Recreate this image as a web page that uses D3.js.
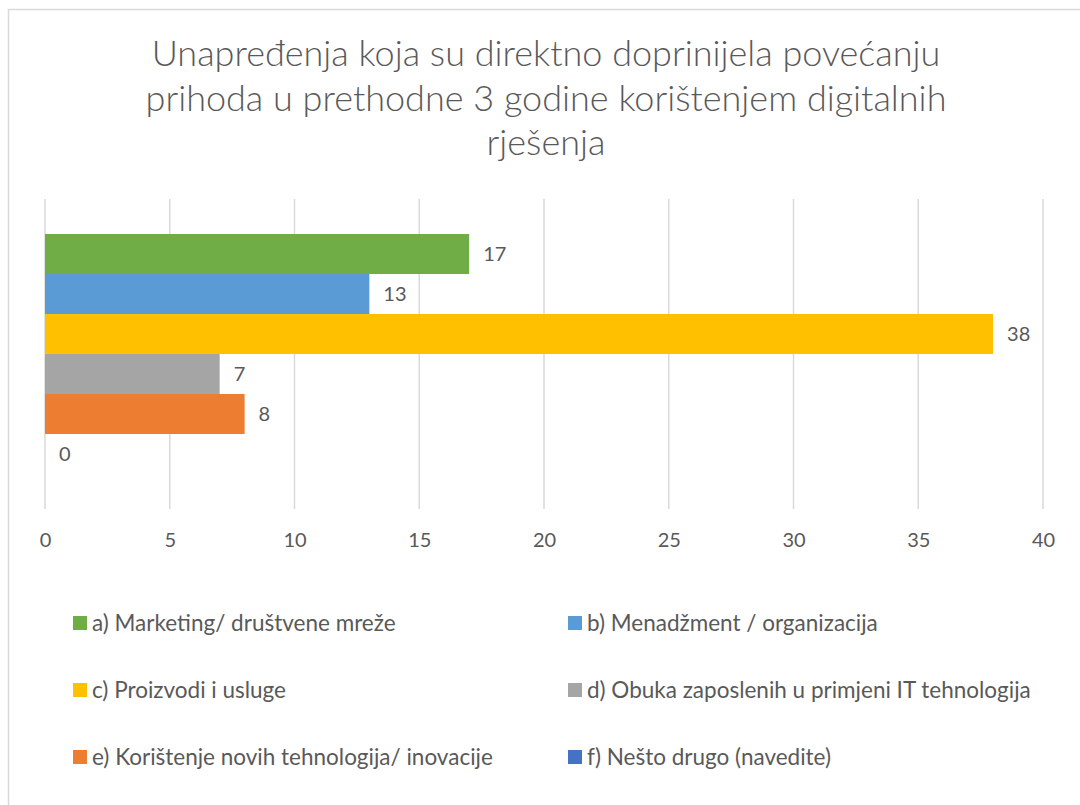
<!DOCTYPE html>
<html>
<head>
<meta charset="utf-8">
<script src="https://cdn.jsdelivr.net/npm/d3@7"></script>
<style>
  html, body { margin: 0; padding: 0; background: #fff; }
  svg { display: block; }
  text { font-family: Lato, "Open Sans", sans-serif; fill: #595959; }
</style>
</head>
<body>
<svg id="chart" width="1080" height="805"></svg>
<script>
const titleLines = [
  "Unapređenja koja su direktno doprinijela povećanju",
  "prihoda u prethodne 3 godine korištenjem digitalnih",
  "rješenja"
];
const categories = [
  "a) Marketing/ društvene mreže",
  "b) Menadžment / organizacija",
  "c) Proizvodi i usluge",
  "d) Obuka zaposlenih u primjeni IT tehnologija",
  "e) Korištenje novih tehnologija/ inovacije",
  "f) Nešto drugo (navedite)"
];
const values = [17, 13, 38, 7, 8, 0];
const colors = ["#70ad47", "#5b9bd5", "#ffc000", "#a5a5a5", "#ed7d31", "#4472c4"];
const xTicks = [0, 5, 10, 15, 20, 25, 30, 35, 40];

const svg = d3.select("#chart");

// chart border
svg.append("rect")
  .attr("x", 8.5).attr("y", 9.5)
  .attr("width", 1200).attr("height", 900)
  .attr("fill", "#fff")
  .attr("stroke", "#d9d9d9").attr("stroke-width", 1.5);

// title
svg.append("g").selectAll("text")
  .data(titleLines).join("text")
  .attr("x", 546)
  .attr("y", (d, i) => 66 + i * 44.5)
  .attr("text-anchor", "middle")
  .attr("font-size", 36)
  .attr("font-weight", 300)
  .text(d => d);

const x = d3.scaleLinear().domain([0, 40]).range([45, 1043]);
const y = d3.scaleBand().domain(categories).range([199, 509])
  .paddingInner(0).paddingOuter(0.875);

// gridlines
svg.append("g").selectAll("line")
  .data(xTicks).join("line")
  .attr("x1", d => x(d)).attr("x2", d => x(d))
  .attr("y1", 199).attr("y2", 509)
  .attr("stroke", "#d9d9d9").attr("stroke-width", 1.5);

// x axis labels
const axis = d3.axisBottom(x).tickValues(xTicks).tickSize(0).tickPadding(0);
const ag = svg.append("g").attr("transform", "translate(0,533)").call(axis);
ag.select(".domain").remove();
ag.selectAll("text")
  .attr("font-size", 20)
  .attr("fill", "#595959")
  .attr("font-family", "Lato, 'Open Sans', sans-serif")
  .attr("dy", "0.71em");

// bars
svg.append("g").selectAll("rect")
  .data(values).join("rect")
  .attr("x", x(0))
  .attr("y", (d, i) => y(categories[i]))
  .attr("width", d => x(d) - x(0))
  .attr("height", y.bandwidth())
  .attr("fill", (d, i) => colors[i]);

// data labels
svg.append("g").selectAll("text")
  .data(values).join("text")
  .attr("x", d => x(d) + 14)
  .attr("y", (d, i) => y(categories[i]) + y.bandwidth() / 2)
  .attr("dy", "0.35em")
  .attr("font-size", 20)
  .text(d => d);

// legend
const legX = [73, 568];
const legY = [623, 690, 757];
const lg = svg.append("g").selectAll("g")
  .data(categories).join("g")
  .attr("transform", (d, i) => `translate(${legX[i % 2]},${legY[Math.floor(i / 2)]})`);
lg.append("rect")
  .attr("x", 0).attr("y", -7)
  .attr("width", 14).attr("height", 14)
  .attr("fill", (d, i) => colors[i]);
lg.append("text")
  .attr("x", 19).attr("dy", "0.35em")
  .attr("font-size", 22.5)
  .text(d => d);
</script>
</body>
</html>
